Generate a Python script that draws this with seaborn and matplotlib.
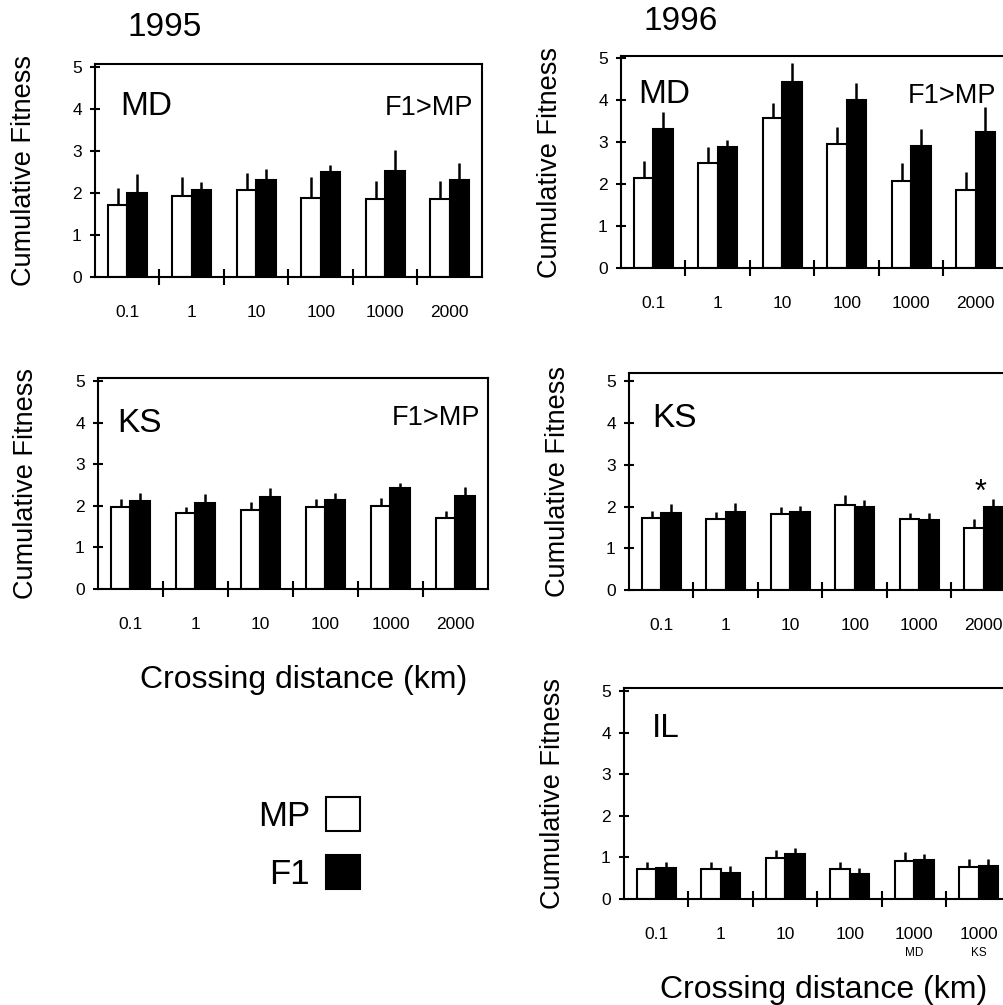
import numpy as np
import pandas as pd
import matplotlib
matplotlib.use("Agg")
import matplotlib.pyplot as plt
import matplotlib.transforms as mtransforms
import seaborn as sns

sns.set_theme(style="white")
plt.rcParams['font.family'] = ['Liberation Sans', 'DejaVu Sans']
plt.rcParams['text.color'] = 'black'
plt.rcParams['axes.labelcolor'] = 'black'
plt.rcParams['xtick.color'] = 'black'
plt.rcParams['ytick.color'] = 'black'
plt.rcParams['axes.edgecolor'] = 'black'

# ---------------- data ----------------
distances = ["0.1", "1", "10", "100", "1000", "2000"]
distances_il = ["0.1", "1", "10", "100", "1000", "1000"]
il_sublabels = ["", "", "", "", "MD", "KS"]
series = ["MP", "F1"]

md95_mp = [1.72, 1.92, 2.06, 1.87, 1.86, 1.86]
md95_mp_err = [0.41, 0.45, 0.41, 0.50, 0.42, 0.42]
md95_f1 = [2.00, 2.08, 2.31, 2.49, 2.53, 2.31]
md95_f1_err = [0.46, 0.17, 0.26, 0.18, 0.49, 0.40]

md96_mp = [2.14, 2.49, 3.57, 2.95, 2.08, 1.86]
md96_mp_err = [0.41, 0.39, 0.37, 0.40, 0.42, 0.42]
md96_f1 = [3.30, 2.88, 4.44, 4.00, 2.91, 3.24]
md96_f1_err = [0.42, 0.17, 0.44, 0.40, 0.41, 0.60]

ks95_mp = [1.97, 1.82, 1.90, 1.97, 2.00, 1.70]
ks95_mp_err = [0.20, 0.16, 0.19, 0.20, 0.20, 0.17]
ks95_f1 = [2.12, 2.08, 2.22, 2.14, 2.42, 2.25]
ks95_f1_err = [0.18, 0.20, 0.20, 0.18, 0.12, 0.21]

ks96_mp = [1.72, 1.69, 1.82, 2.04, 1.69, 1.49]
ks96_mp_err = [0.18, 0.18, 0.18, 0.24, 0.16, 0.20]
ks96_f1 = [1.84, 1.88, 1.87, 2.00, 1.67, 1.98]
ks96_f1_err = [0.21, 0.20, 0.15, 0.16, 0.18, 0.20]

il96_mp = [0.73, 0.73, 0.98, 0.71, 0.92, 0.77]
il96_mp_err = [0.17, 0.16, 0.20, 0.18, 0.20, 0.18]
il96_f1 = [0.74, 0.63, 1.08, 0.61, 0.94, 0.79]
il96_f1_err = [0.16, 0.16, 0.14, 0.14, 0.14, 0.18]

W, H = 1004, 1005
fig = plt.figure(figsize=(W / 100, H / 100), dpi=100)


def rect(left, top, bottom, width):
    return [left / W, (H - bottom) / H, width / W, (bottom - top) / H]


def panel(r, mp, mp_err, f1, f1_err, labels, ytop, name, f1mp=None):
    ax = fig.add_axes(rect(*r))
    n = len(mp)
    df = pd.DataFrame({
        "group": list(range(n)) * 2,
        "value": mp + f1,
        "series": ["MP"] * n + ["F1"] * n,
    })
    sns.barplot(data=df, x="group", y="value", hue="series", hue_order=series,
                palette={"MP": "white", "F1": "black"}, width=0.6,
                edgecolor="black", linewidth=1.5, errorbar=None,
                saturation=1, legend=False, ax=ax)
    for cont, err in zip(ax.containers, [mp_err, f1_err]):
        xs = [p.get_x() + p.get_width() / 2 for p in cont]
        ys = [p.get_height() for p in cont]
        ax.errorbar(xs, ys, yerr=[np.zeros(len(err)), err], fmt="none",
                    ecolor="black", elinewidth=1.8, capsize=0, zorder=3)
    ax.set_xlim(-0.5, n - 0.5)
    ax.set_ylim(0, ytop)
    ax.set_xticks(range(n))
    ax.set_xticklabels(labels)
    ax.set_xticks(np.arange(n - 1) + 0.5, minor=True)
    ax.tick_params(axis="x", which="major", length=0, pad=20, labelsize=12.5,
                   colors="black")
    ax.tick_params(axis="x", which="minor", bottom=True, direction="inout",
                   length=12, width=1.5, color="black")
    ax.set_yticks(range(6))
    ax.tick_params(axis="y", which="major", left=True, direction="inout",
                   length=7, width=1.5, pad=6, labelsize=12.5, colors="black")
    for s in ax.spines.values():
        s.set_visible(True)
        s.set_linewidth(1.5)
        s.set_color("black")
    ax.set_xlabel("")
    ax.set_ylabel("Cumulative Fitness", fontsize=19.5, color="black")
    ax.yaxis.set_label_coords(-0.15, 0.5)
    ax.text(name[1], name[2], name[0], transform=ax.transAxes, fontsize=24,
            ha="left", va="baseline")
    if f1mp is not None:
        ax.text(f1mp[0], f1mp[1], "F1>MP", transform=ax.transAxes,
                fontsize=19.5, ha="right", va="baseline")
    return ax


ax_tl = panel((95, 64, 277, 387), md95_mp, md95_mp_err, md95_f1, md95_f1_err,
              distances, 5.07, ("MD", 0.065, 0.76), (0.977, 0.76))
ax_tr = panel((621, 56, 268, 387), md96_mp, md96_mp_err, md96_f1, md96_f1_err,
              distances, 5.05, ("MD", 0.044, 0.78), (0.97, 0.78))
ax_ml = panel((98, 378, 589, 390), ks95_mp, ks95_mp_err, ks95_f1, ks95_f1_err,
              distances, 5.08, ("KS", 0.05, 0.744), (0.98, 0.777))
ax_mr = panel((629, 373, 590, 387), ks96_mp, ks96_mp_err, ks96_f1, ks96_f1_err,
              distances, 5.2, ("KS", 0.06, 0.75))
ax_br = panel((624, 688, 899, 387), il96_mp, il96_mp_err, il96_f1, il96_f1_err,
              distances_il, 5.07, ("IL", 0.072, 0.77))

# significance asterisk on KS 1996, 2000 km
ax_mr.text(4.95, 2.33, "*", ha="center", va="center", fontsize=22)

# sub-labels under the IL 1000 km tick labels
blend = mtransforms.blended_transform_factory(ax_br.transData, ax_br.transAxes)
for i, s in enumerate(il_sublabels):
    if s:
        ax_br.text(i, -0.256, s, transform=blend, ha="center", va="center",
                   fontsize=8.5)

# year titles
fig.text(165 / W, 1 - 27 / H, "1995", ha="center", va="center", fontsize=24)
fig.text(681 / W, 1 - 21 / H, "1996", ha="center", va="center", fontsize=24)

# x-axis titles
fig.text(304 / W, 1 - 688 / H, "Crossing distance (km)", ha="center",
         va="baseline", fontsize=23)
fig.text(824 / W, 1 - 998 / H, "Crossing distance (km)", ha="center",
         va="baseline", fontsize=23)

# legend
handles = [ax_tl.containers[0][0], ax_tl.containers[1][0]]
fig.legend(handles, series, loc="upper left",
           bbox_to_anchor=(258 / W, 1 - 797 / H), frameon=False, fontsize=25,
           markerfirst=False, handlelength=0.98, handleheight=1.15,
           handletextpad=0.46, labelspacing=0.63, borderpad=0,
           borderaxespad=0)

fig.savefig("out.png", dpi=100)
